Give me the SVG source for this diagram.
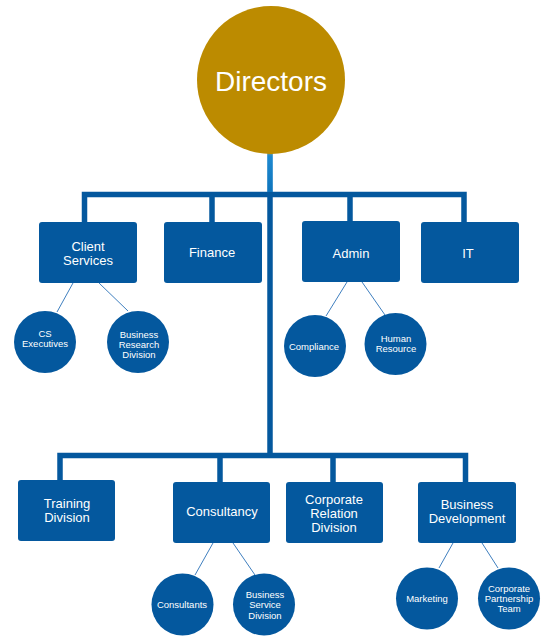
<svg xmlns="http://www.w3.org/2000/svg" width="559" height="640" viewBox="0 0 559 640">
<defs>
<linearGradient id="trunkGrad" x1="0" y1="150" x2="0" y2="200" gradientUnits="userSpaceOnUse">
<stop offset="0" stop-color="#c9a23a"/>
<stop offset="0.12" stop-color="#1f8ad0"/>
<stop offset="1" stop-color="#0a6fb8"/>
</linearGradient>
</defs>
<style>
.box{fill:#04589e}
.circ{fill:#04589e}
.bus{stroke:#04589e;stroke-width:5.5;fill:none;stroke-linejoin:miter}
.thin{stroke:#3f7fbf;stroke-width:1;fill:none}
.bt{font-family:"Liberation Sans",Arial,sans-serif;font-size:13px;fill:#ffffff;text-anchor:middle}
.ct{font-family:"Liberation Sans",Arial,sans-serif;font-size:9.5px;fill:#ffffff;text-anchor:middle}
.dt{font-family:"Liberation Sans",Arial,sans-serif;font-size:28px;fill:#ffffff;text-anchor:middle}
</style>
<rect width="559" height="640" fill="#ffffff"/>
<g id="connectors">
<path class="bus" d="M84.5,222 V194.5 H464 V222"/>
<path class="bus" d="M212,222 V194.5"/>
<path class="bus" d="M350,221 V194.5"/>
<path class="bus" d="M270,194 V455.5"/>
<path class="bus" d="M60,480 V455.5 H465.5 V482"/>
<path class="bus" d="M220,482 V455.5"/>
<path class="bus" d="M333,482 V455.5"/>
<rect x="267.2" y="150" width="5.6" height="42" fill="url(#trunkGrad)"/>
<line class="thin" x1="73" y1="283" x2="57" y2="312"/>
<line class="thin" x1="99" y1="283" x2="128" y2="311"/>
<line class="thin" x1="347" y1="282" x2="326" y2="316"/>
<line class="thin" x1="362" y1="282" x2="385" y2="315"/>
<line class="thin" x1="213" y1="543" x2="195" y2="575"/>
<line class="thin" x1="233" y1="543" x2="255" y2="575"/>
<line class="thin" x1="453" y1="543" x2="439" y2="568"/>
<line class="thin" x1="482" y1="543" x2="498" y2="568"/>
</g>
<g id="directors">
<circle cx="271" cy="80" r="74" fill="#bc8b00"/>
<text class="dt" x="271" y="91">Directors</text>
</g>
<g id="client-services">
<rect class="box" x="39" y="222" width="98" height="61" rx="3"/>
<text class="bt" x="88" y="250.5">Client</text>
<text class="bt" x="88" y="264.5">Services</text>
</g>
<g id="finance">
<rect class="box" x="164" y="222" width="98" height="61" rx="3"/>
<text class="bt" x="212" y="257">Finance</text>
</g>
<g id="admin">
<rect class="box" x="302" y="221" width="98" height="61" rx="3"/>
<text class="bt" x="351" y="258">Admin</text>
</g>
<g id="it">
<rect class="box" x="421" y="222" width="98" height="61" rx="3"/>
<text class="bt" x="468" y="258">IT</text>
</g>
<g id="cs-executives">
<circle class="circ" cx="45" cy="342" r="31"/>
<text class="ct" x="45" y="337">CS</text>
<text class="ct" x="45" y="347">Executives</text>
</g>
<g id="business-research">
<circle class="circ" cx="138" cy="342" r="31"/>
<text class="ct" x="139" y="338">Business</text>
<text class="ct" x="139" y="348">Research</text>
<text class="ct" x="139" y="358">Division</text>
</g>
<g id="compliance">
<circle class="circ" cx="315" cy="346" r="31"/>
<text class="ct" x="314" y="350">Compliance</text>
</g>
<g id="human-resource">
<circle class="circ" cx="395.5" cy="344" r="31"/>
<text class="ct" x="396" y="342">Human</text>
<text class="ct" x="396" y="352">Resource</text>
</g>
<g id="training">
<rect class="box" x="18" y="480" width="97" height="61" rx="3"/>
<text class="bt" x="67" y="508">Training</text>
<text class="bt" x="67" y="522">Division</text>
</g>
<g id="consultancy">
<rect class="box" x="173" y="482" width="97" height="61" rx="3"/>
<text class="bt" x="222" y="516">Consultancy</text>
</g>
<g id="corporate-relation">
<rect class="box" x="286" y="482" width="97" height="61" rx="3"/>
<text class="bt" x="334" y="503.5">Corporate</text>
<text class="bt" x="334" y="517.5">Relation</text>
<text class="bt" x="334" y="531.5">Division</text>
</g>
<g id="business-development">
<rect class="box" x="418" y="482" width="98" height="61" rx="3"/>
<text class="bt" x="467" y="509">Business</text>
<text class="bt" x="467" y="523">Development</text>
</g>
<g id="consultants">
<circle class="circ" cx="182.5" cy="604.5" r="31"/>
<text class="ct" x="182" y="608">Consultants</text>
</g>
<g id="business-service">
<circle class="circ" cx="264" cy="604.5" r="31"/>
<text class="ct" x="265" y="598">Business</text>
<text class="ct" x="265" y="608">Service</text>
<text class="ct" x="265" y="618.5">Division</text>
</g>
<g id="marketing">
<circle class="circ" cx="427" cy="598.5" r="31"/>
<text class="ct" x="427" y="602">Marketing</text>
</g>
<g id="corporate-partnership">
<circle class="circ" cx="509" cy="598.5" r="31"/>
<text class="ct" x="509" y="592">Corporate</text>
<text class="ct" x="509" y="602">Partnership</text>
<text class="ct" x="509" y="612">Team</text>
</g>
</svg>
